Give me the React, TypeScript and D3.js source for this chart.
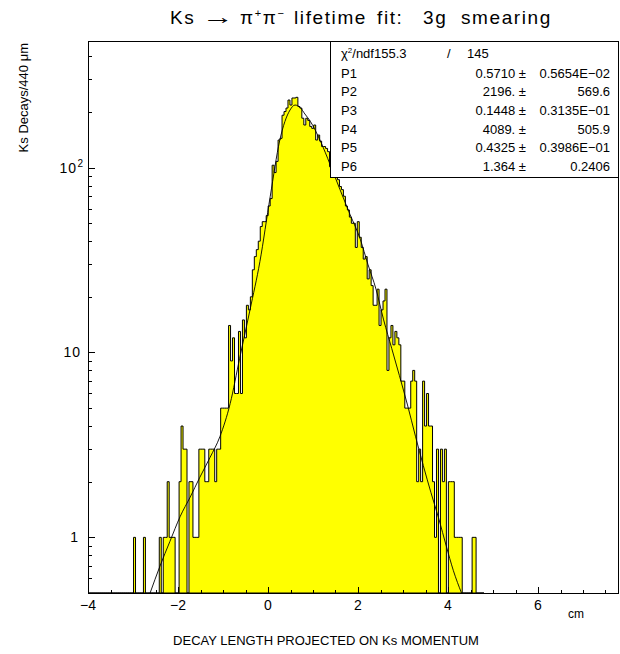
import React from "react";
import * as d3 from "d3";

// Histogram: bins of 440 um (0.044 cm) starting at -4 cm
const binStart = -4;
const binWidth = 0.044;
const counts: number[] = [
  0, 0, 0, 0, 0, 0, 0, 0, 0, 0,
  0, 0, 0, 0, 0, 0, 0, 0, 0, 0,
  0, 0, 0, 1, 0, 0, 0, 0, 1, 0,
  0, 0, 0, 0, 0, 0, 1, 0, 1, 1,
  2, 1, 1, 1, 0, 0, 2, 4, 3, 3,
  0, 2, 2, 1, 1, 1, 3, 3, 3, 2,
  2, 3, 3, 3, 2, 3, 3, 5, 5, 5,
  5, 14, 9, 12, 6, 6, 13, 6, 15, 12,
  18, 17, 20, 28, 33, 36, 40, 48, 51, 51,
  55, 62, 68, 103, 94, 108, 141, 144, 192, 201,
  210, 232, 218, 238, 238, 240, 214, 210, 185, 170,
  185, 180, 167, 163, 170, 141, 150, 139, 130, 130,
  127, 122, 101, 98, 93, 91, 86, 79, 76, 70,
  62, 59, 54, 50, 50, 37, 51, 42, 37, 32,
  33, 25, 28, 23, 18, 18, 22, 14, 17, 19,
  22, 8, 12, 14, 11, 13, 12, 11, 7, 7,
  5, 5, 5, 7, 8, 7, 2, 3, 2, 7,
  4, 6, 4, 4, 2, 1, 3, 0, 3, 2,
  3, 0, 2, 2, 2, 1, 1, 1, 1, 0,
  0, 0, 0, 0, 1, 1, 0, 0, 0, 0,
];

// Fit curve (cm, entries per bin)
const fitX: number[] = [
  -2.62, -2.4, -2.18, -1.95, -1.73, -1.52, -1.29, -1.07, -0.84, -0.63,
  -0.4, -0.18, 0.05, 0.26, 0.49, 0.6, 0.71, 0.82, 0.94, 1.16,
  1.38, 1.6, 1.82, 2.05, 2.22, 2.4, 2.57, 2.75, 2.92, 3.1,
  3.28, 3.45, 3.62, 3.8, 3.96, 4.12, 4.3,
];
const fitY: number[] = [
  0.5, 0.7, 0.95, 1.3, 1.65, 2.1, 2.7, 3.5, 5.3, 9.3,
  17, 31, 70, 140, 205, 218, 212, 195, 178, 140,
  104, 76, 56, 41, 30, 22, 15, 10.5, 7.5, 5.2,
  3.5, 2.45, 1.75, 1.25, 0.9, 0.66, 0.5,
];

const xMajorTicks: number[] = [-4, -2, 0, 2, 4, 6];
const xTickLabels: string[] = ["\u22124", "\u22122", "0", "2", "4", "6"];
const yMajorTicks: number[] = [1, 10, 100];

const statNames: string[] = ["P1", "P2", "P3", "P4", "P5", "P6"];
const statValues: string[] = ["0.5710", "2196.", "0.1448", "4089.", "0.4325", "1.364"];
const statErrors: string[] = ["0.5654E\u221202", "569.6", "0.3135E\u221201", "505.9", "0.3986E\u221201", "0.2406"];
const chi2Text = "155.3";
const ndfText = "145";

const FONT = "'Liberation Sans', Arial, Helvetica, sans-serif";

export default function App() {
  const left = 88;
  const right = 619;
  const top = 41;
  const bottom = 593;
  const x = d3.scaleLinear().domain([-4, 7.8]).range([left, right]);
  const y = d3.scaleLog().domain([0.5, 484]).range([bottom, top]);
  const yc = (v: number) => (v >= 0.5 ? y(v) : bottom);

  const pts: [number, number][] = [];
  pts.push([x(binStart), bottom]);
  counts.forEach((c, i) => {
    const x0 = x(binStart + i * binWidth);
    const x1 = x(binStart + (i + 1) * binWidth);
    pts.push([x0, yc(c)]);
    pts.push([x1, yc(c)]);
  });
  pts.push([x(binStart + counts.length * binWidth), bottom]);
  const histPath = d3.line()(pts) + "Z";

  const fitPath = d3
    .line<number>()
    .x((_, i) => x(fitX[i]))
    .y((d) => y(d))
    .curve(d3.curveMonotoneX)(fitY);

  const xMinor = d3.range(-4, 7.801, 0.5).filter((v) => !xMajorTicks.includes(v));
  const yMinor: number[] = [];
  [0.1, 1, 10, 100].forEach((dec) => {
    for (let m = 2; m <= 9; m++) {
      const v = m * dec;
      if (v > 0.5 && v < 484) yMinor.push(v);
    }
  });

  const boxLeft = 330.5;
  const boxBottom = 177.5;
  const rowY = (i: number) => 77.5 + i * 18.7;

  return (
    <svg
      width={620}
      height={654}
      style={{ position: "absolute", left: 0, top: 0, background: "#fff" }}
      fontFamily={FONT}
    >
      <rect x={0} y={0} width={620} height={654} fill="#fff" />
      {/* title */}
      <g fontSize={19} fill="#000" letterSpacing={1.6}>
        <text x={170} y={24}>Ks</text>
        <text x={202} y={24} fontSize={22} letterSpacing={0} textLength={32} lengthAdjust="spacingAndGlyphs">{"\u2192"}</text>
        <text x={240} y={24}>
          {"\u03c0"}
          <tspan fontSize={11} dy={-7}>+</tspan>
          <tspan dy={7}>{"\u03c0"}</tspan>
          <tspan fontSize={11} dy={-7}>{"\u2212"}</tspan>
        </text>
        <text x={294} y={24}>lifetime</text>
        <text x={377} y={24}>fit:</text>
        <text x={423} y={24}>3g</text>
        <text x={461} y={24}>smearing</text>
      </g>

      <defs>
        <clipPath id="plotclip">
          <rect x={left} y={top} width={right - left} height={bottom - top} />
        </clipPath>
      </defs>

      <g clipPath="url(#plotclip)">
        <path d={histPath} fill="#ffff00" stroke="#000" strokeWidth={1} />
        <path d={fitPath || ""} fill="none" stroke="#000" strokeWidth={0.9} />
      </g>

      {/* frame */}
      <rect
        x={left + 0.5}
        y={top + 0.5}
        width={right - left - 1}
        height={bottom - top}
        fill="none"
        stroke="#000"
        strokeWidth={1}
        shapeRendering="crispEdges"
      />

      {/* ticks */}
      <g stroke="#000" strokeWidth={1} shapeRendering="crispEdges">
        {xMajorTicks.map((v) => (
          <line key={"xm" + v} x1={Math.round(x(v)) + 0.5} x2={Math.round(x(v)) + 0.5} y1={bottom} y2={bottom - 6} />
        ))}
        {xMinor.map((v) => (
          <line key={"xn" + v} x1={Math.round(x(v)) + 0.5} x2={Math.round(x(v)) + 0.5} y1={bottom} y2={bottom - 3} />
        ))}
        {yMajorTicks.map((v) => (
          <line key={"ym" + v} x1={left} x2={left + 7} y1={Math.round(y(v)) + 0.5} y2={Math.round(y(v)) + 0.5} />
        ))}
        {yMinor.map((v) => (
          <line key={"yn" + v} x1={left} x2={left + 3.5} y1={Math.round(y(v)) + 0.5} y2={Math.round(y(v)) + 0.5} />
        ))}
      </g>

      {/* x tick labels */}
      <g fontSize={14} fill="#000" textAnchor="middle">
        {xMajorTicks.map((v, i) => (
          <text key={"xl" + v} x={x(v)} y={610}>
            {xTickLabels[i]}
          </text>
        ))}
      </g>

      {/* y tick labels */}
      <g fontSize={14} fill="#000" textAnchor="end" letterSpacing={1}>
        <text x={77} y={y(100) + 5}>10</text>
        <text x={83} y={y(100) - 1} fontSize={10} letterSpacing={0}>2</text>
        <text x={81} y={y(10) + 5}>10</text>
        <text x={79} y={y(1) + 5}>1</text>
      </g>

      {/* axis titles */}
      <text x={326} y={645} fontSize={13} textAnchor="middle" fill="#000">
        DECAY LENGTH PROJECTED ON Ks MOMENTUM
      </text>
      <text x={568} y={618} fontSize={12} fill="#000">
        cm
      </text>
      <text
        transform="translate(28,43) rotate(-90)"
        fontSize={13}
        textAnchor="end"
        fill="#000"
      >
        Ks Decays/440 {"\u03bc"}m
      </text>

      {/* stats box */}
      <rect
        x={boxLeft}
        y={top + 0.5}
        width={right - boxLeft - 0.5}
        height={boxBottom - top - 0.5}
        fill="#fff"
        stroke="#000"
        strokeWidth={1}
        shapeRendering="crispEdges"
      />
      <g fontSize={13} fill="#000">
        <text x={341} y={58}>
          {"\u03c7"}
          <tspan fontSize={8} dy={-5}>2</tspan>
          <tspan dy={5}>/ndf{chi2Text}</tspan>
        </text>
        <text x={447} y={58}>/</text>
        <text x={467} y={58}>{ndfText}</text>
        {statNames.map((n, i) => (
          <g key={n}>
            <text x={341} y={rowY(i)}>{n}</text>
            <text x={526} y={rowY(i)} textAnchor="end">
              {statValues[i]} {"\u00b1"}
            </text>
            <text x={610} y={rowY(i)} textAnchor="end">
              {statErrors[i]}
            </text>
          </g>
        ))}
      </g>
    </svg>
  );
}
